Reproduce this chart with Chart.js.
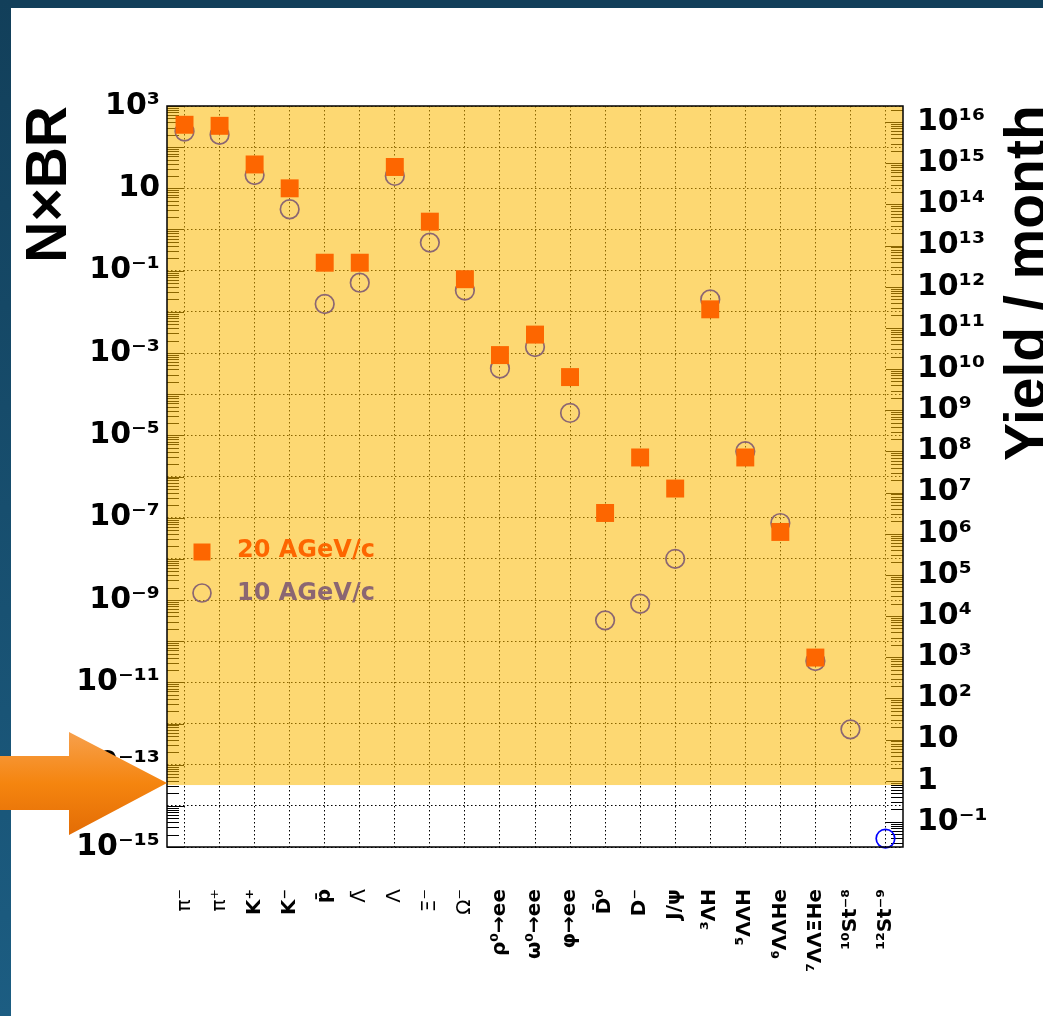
<!DOCTYPE html>
<html>
<head>
<meta charset="utf-8">
<script src="https://cdn.jsdelivr.net/npm/chart.js@4.4.0/dist/chart.umd.min.js"></script>
<style>
html, body { margin: 0; padding: 0; background: #fff; }
#wrap { position: relative; width: 1043px; height: 1016px; overflow: hidden; }
#c { position: absolute; left: 0; top: 0; }
.bandTop { position: absolute; left: 0; top: 0; width: 1043px; height: 8px; background: #123f5a; }
.bandLeft { position: absolute; left: 0; top: 0; width: 11px; height: 1016px; background: linear-gradient(#123f5a, #1c5d82); }
#ytitle2 { position: absolute; left: 997px; top: 461px; transform-origin: 0 0; transform: rotate(-90deg);
  font: bold 57px 'Liberation Sans', Arial, sans-serif; line-height: 1; white-space: nowrap; color: #000; }
#arrow { position: absolute; left: 0; top: 0; }
</style>
</head>
<body>
<div id="wrap">
  <canvas id="c" width="1043" height="1016"></canvas>
  <div class="bandTop"></div>
  <div class="bandLeft"></div>
  <div id="ytitle2">Yield / month</div>
  <svg id="arrow" width="170" height="1016">
    <defs>
      <linearGradient id="ag" x1="0" y1="0" x2="0" y2="1">
        <stop offset="0" stop-color="#f7a04c"/>
        <stop offset="0.5" stop-color="#f5850f"/>
        <stop offset="1" stop-color="#e36c05"/>
      </linearGradient>
    </defs>
    <polygon points="0,756 69,756 69,732 167,783 69,835 69,810 0,810" fill="url(#ag)"/>
  </svg>
</div>
<script>
// particles on the x axis
var particles = ['π⁻', 'π⁺', 'K⁺', 'K⁻', 'p̄', 'Λ̄', 'Λ', 'Ξ⁻', 'Ω⁻', 'ρ⁰→ee', 'ω⁰→ee', 'φ→ee',
  'D̄⁰', 'D⁻', 'J/ψ', '³ΛH', '⁵ΛΛH', '⁶ΛΛHe', '⁷ΛΛΞHe', '¹⁰St⁻⁸', '¹²St⁻⁹'];

// multiplicity x branching ratio
var nbr20 = [350, 330, 38, 10, 0.156, 0.156, 33, 1.55, 0.062, 8.9e-4, 2.8e-3, 2.6e-4,
  1.3e-7, 2.9e-6, 5.1e-7, 0.0115, 2.9e-6, 4.5e-8, 4.0e-11, null, null];
var nbr10 = [240, 200, 21, 3.1, 0.0155, 0.051, 20, 0.48, 0.033, 4.2e-4, 1.4e-3, 3.5e-5,
  3.2e-10, 8.1e-10, 1.0e-8, 0.020, 4.1e-6, 7.4e-8, 3.3e-11, 7.2e-13, 1.6e-15];

// axis decades
var leftDecades = [-15, -14, -13, -12, -11, -10, -9, -8, -7, -6, -5, -4, -3, -2, -1, 0, 1, 2, 3];
var rightDecades = [-1, 0, 1, 2, 3, 4, 5, 6, 7, 8, 9, 10, 11, 12, 13, 14, 15, 16];
var rightMin = Math.pow(10, -1.61);
var rightMax = Math.pow(10, 16.39);
var highlightFrom = 3.2e-14; // yield of 1 per month

var greekOnly = [0, 1, 5, 6, 7, 8];
var sup = {'0': '⁰', '1': '¹', '2': '²', '3': '³', '4': '⁴', '5': '⁵', '6': '⁶', '7': '⁷', '8': '⁸', '9': '⁹', '-': '⁻'};

function powLabel(e) {
  if (e === 0) return '1';
  if (e === 1) return '10';
  return '10' + String(e).split('').map(function (ch) { return sup[ch]; }).join('');
}

// ROOT style ticks drawn inside the frame
var innerTicks = {
  id: 'innerTicks',
  beforeDatasetsDraw: function (chart) {
    var ctx = chart.ctx, a = chart.chartArea;
    ctx.save();
    ctx.strokeStyle = '#000';
    ctx.lineWidth = 1;
    [['y', a.left, 1], ['y2', a.right, -1]].forEach(function (t) {
      var s = chart.scales[t[0]];
      var e0 = Math.floor(Math.log10(s.min)), e1 = Math.ceil(Math.log10(s.max));
      for (var e = e0; e <= e1; e++) {
        for (var m = 1; m <= 9; m++) {
          var v = m * Math.pow(10, e);
          if (v < s.min || v > s.max) continue;
          var y = Math.round(s.getPixelForValue(v)) + 0.5;
          ctx.beginPath();
          ctx.moveTo(t[1], y);
          ctx.lineTo(t[1] + t[2] * (m === 1 ? 17 : 12), y);
          ctx.stroke();
        }
      }
    });
    ctx.restore();
  }
};

// legend, yellow highlight box and frame
var overlay = {
  id: 'overlay',
  afterDatasetsDraw: function (chart) {
    var ctx = chart.ctx, a = chart.chartArea;
    var ds = chart.data.datasets;
    var x = a.left + 35;
    ctx.save();
    ctx.fillStyle = ds[0].pointBackgroundColor;
    ctx.fillRect(x - 8.5, a.top + 446 - 8.5, 17, 17);
    ctx.strokeStyle = ds[1].pointBorderColor;
    ctx.lineWidth = ds[1].pointBorderWidth;
    ctx.beginPath();
    ctx.arc(x, a.top + 487, 9, 0, 2 * Math.PI);
    ctx.stroke();
    ctx.font = "bold 24px 'DejaVu Sans'";
    ctx.textBaseline = 'alphabetic';
    ctx.fillStyle = ds[0].pointBackgroundColor;
    ctx.fillText(ds[0].label, a.left + 70, a.top + 451);
    ctx.fillStyle = ds[1].pointBorderColor;
    ctx.fillText(ds[1].label, a.left + 70, a.top + 494);
    ctx.restore();
  },
  afterDraw: function (chart) {
    var ctx = chart.ctx, a = chart.chartArea;
    var yCut = chart.scales.y.getPixelForValue(highlightFrom);
    ctx.save();
    ctx.fillStyle = 'rgba(251,184,0,0.553)';
    ctx.fillRect(a.left, a.top, a.right - a.left, yCut - a.top);
    ctx.lineWidth = 1.5;
    ctx.strokeStyle = '#000';
    ctx.strokeRect(a.left, a.top, a.right - a.left, a.bottom - a.top);
    ctx.restore();
  }
};

new Chart('c', {
  type: 'line',
  data: {
    labels: particles,
    datasets: [{
      label: '20 AGeV/c',
      data: nbr20,
      showLine: false,
      clip: false,
      pointStyle: 'rect',
      pointRadius: 12.7,
      pointBackgroundColor: '#ff0000',
      pointBorderColor: '#ff0000',
      pointBorderWidth: 0
    }, {
      label: '10 AGeV/c',
      data: nbr10,
      showLine: false,
      clip: false,
      pointStyle: 'circle',
      pointRadius: 9.3,
      pointBackgroundColor: 'rgba(0,0,0,0)',
      pointBorderColor: '#0000ff',
      pointBorderWidth: 1.7
    }]
  },
  options: {
    responsive: false,
    animation: false,
    events: [],
    layout: {padding: {top: 106, left: 0, right: 0, bottom: 0}},
    plugins: {legend: {display: false}, tooltip: {enabled: false}},
    scales: {
      x: {
        type: 'category',
        offset: true,
        afterFit: function (s) { s.height = 169; },
        grid: {color: '#000', lineWidth: 1, drawTicks: false, offset: false},
        border: {display: false, dash: [1.5, 2.5]},
        ticks: {
          autoSkip: false,
          minRotation: 90,
          maxRotation: 90,
          padding: 42,
          color: '#000',
          font: function (ctx) {
            return {family: 'DejaVu Sans', size: 20, weight: greekOnly.indexOf(ctx.index) >= 0 ? 'normal' : 'bold'};
          }
        }
      },
      y: {
        type: 'logarithmic',
        position: 'left',
        min: 1e-15,
        max: 1e3,
        afterBuildTicks: function (s) {
          s.ticks = leftDecades.map(function (e) { return {value: Math.pow(10, e)}; });
        },
        afterFit: function (s) { s.width = 167; },
        grid: {color: '#000', lineWidth: 1, drawTicks: false},
        border: {display: false, dash: [1.5, 2.5]},
        ticks: {
          autoSkip: false,
          padding: 7,
          color: '#000',
          font: {family: 'DejaVu Sans', size: 30, weight: 'bold'},
          callback: function (v) {
            var e = Math.round(Math.log10(v));
            return e % 2 ? powLabel(e) : '';
          }
        },
        title: {
          display: true,
          text: 'N×BR',
          align: 'end',
          color: '#000',
          font: {family: 'Liberation Sans', size: 57, weight: 'bold', lineHeight: 1.2},
          padding: {top: 16, bottom: 0}
        }
      },
      y2: {
        type: 'logarithmic',
        position: 'right',
        min: rightMin,
        max: rightMax,
        afterBuildTicks: function (s) {
          s.ticks = rightDecades.map(function (e) { return {value: Math.pow(10, e)}; });
        },
        afterFit: function (s) { s.width = 140; },
        grid: {drawOnChartArea: false, drawTicks: false},
        border: {display: false},
        ticks: {
          autoSkip: false,
          padding: 14,
          color: '#000',
          font: {family: 'DejaVu Sans', size: 30, weight: 'bold'},
          callback: function (v) { return powLabel(Math.round(Math.log10(v))); }
        }
      }
    }
  },
  plugins: [innerTicks, overlay]
});
</script>
</body>
</html>
